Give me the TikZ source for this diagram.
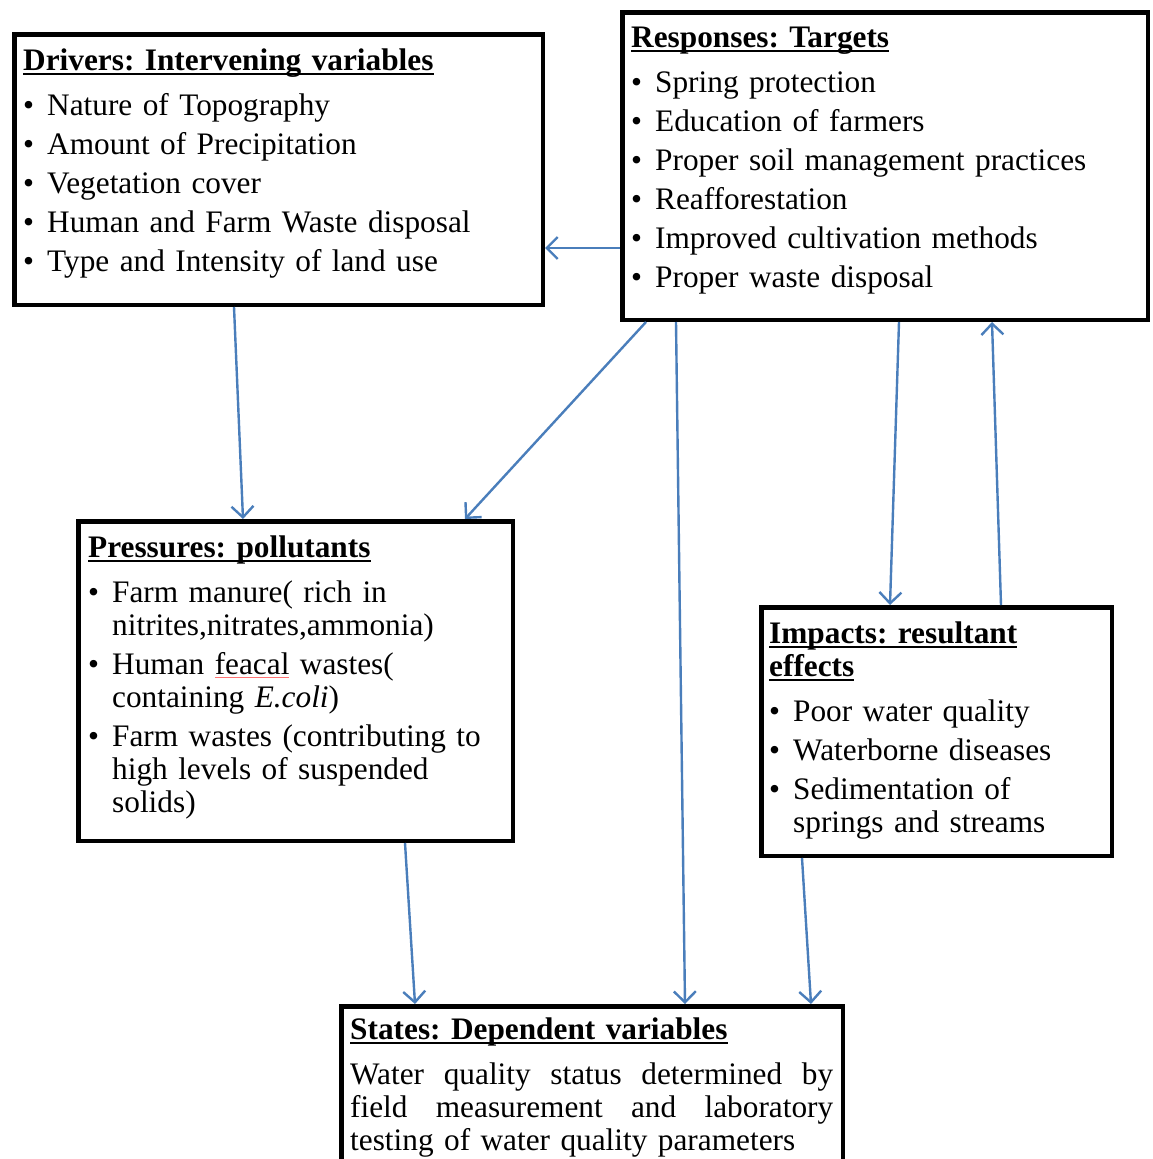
\documentclass[tikz,border=0pt]{standalone}
\usepackage{fontspec}
\setmainfont{Liberation Serif}
\usepackage{xcolor}
\usetikzlibrary{arrows.meta, positioning, calc}

\definecolor{flowblue}{RGB}{74,126,187}

\newcommand{\headline}[1]{\leavevmode\setbox0\hbox{\textbf{#1}}\rlap{\rule[-4.5pt]{\wd0}{2.2pt}}\box0\relax}
\newcommand{\bitem}[1]{\par\hangindent=24pt\hangafter=1\noindent\makebox[24pt][l]{\textbullet}#1}
\newcommand{\spellmark}[1]{\setbox0\hbox{#1}\rlap{\color{red!55}\rule[-3pt]{\wd0}{0.7pt}}\box0\relax}

\begin{document}
\begin{tikzpicture}[
        x=1pt, y=-1pt,
        >={Straight Barb[length=11pt,width=22pt]},
        box/.style={draw=black, line width=4.5pt, rectangle, anchor=north west, inner sep=0pt},
        boxtext/.style={anchor=north west, inner sep=0pt, text width=#1, align=left,
            font={\fontsize{31.3}{33}\selectfont\frenchspacing\setlength{\parskip}{6pt}}},
        flow/.style={->, draw=flowblue, line width=2.4pt}
    ]

        \useasboundingbox (0,0) rectangle (1152,1159);

        % the five boxes
        \node[box, minimum width=528.5pt, minimum height=270.5pt] (drivers) at (12,32) {};
        \node[box, minimum width=525.5pt, minimum height=307.5pt] (responses) at (620,10) {};
        \node[box, minimum width=434.5pt, minimum height=319.5pt] (pressures) at (76,519) {};
        \node[box, minimum width=350.5pt, minimum height=248.5pt] (impacts) at (759,605) {};
        \node[box, minimum width=501.5pt, minimum height=180pt] (states) at (339,1004) {};

        \node[boxtext=515pt] (driverstext) at ([xshift=11pt,yshift=-13pt]drivers.north west) {%
            \rule{0pt}{25pt}\headline{Drivers: Intervening variables}\par\vspace{6pt}
            \bitem{Nature of Topography}
            \bitem{Amount of Precipitation}
            \bitem{Vegetation cover}
            \bitem{Human and Farm Waste disposal}
            \bitem{Type and Intensity of land use}\par};

        \node[boxtext=515pt] (responsestext) at ([xshift=11pt,yshift=-12pt]responses.north west) {%
            \rule{0pt}{25pt}\headline{Responses: Targets}\par\vspace{6pt}
            \bitem{Spring protection}
            \bitem{Education of farmers}
            \bitem{Proper soil management practices}
            \bitem{Reafforestation}
            \bitem{Improved cultivation methods}
            \bitem{Proper waste disposal}\par};

        \node[boxtext=430pt] (pressurestext) at ([xshift=12pt,yshift=-13pt]pressures.north west) {%
            \rule{0pt}{25pt}\headline{Pressures: pollutants}\par\vspace{6pt}
            \bitem{Farm manure( rich in\newline nitrites,nitrates,ammonia)}
            \bitem{Human \spellmark{feacal} wastes(\newline containing \textit{E.coli})}
            \bitem{Farm wastes (contributing to\newline high levels of suspended\newline solids)}\par};

        \node[boxtext=345pt] (impactstext) at ([xshift=10pt,yshift=-13pt]impacts.north west) {%
            \rule{0pt}{25pt}\headline{Impacts: resultant}\newline\headline{effects}\par\vspace{6pt}
            \bitem{Poor water quality}
            \bitem{Waterborne diseases}
            \bitem{Sedimentation of\newline springs and streams}\par};

        \node[boxtext=490pt] (statestext) at ([xshift=11pt,yshift=-10pt]states.north west) {%
            \rule{0pt}{25pt}\headline{States: Dependent variables}\par\vspace{6pt}
            \noindent\hbox to 483pt{Water\hfill quality\hfill status\hfill determined\hfill by}\newline
            \hbox to 483pt{field\hfill measurement\hfill and\hfill laboratory}\newline
            testing of water quality parameters\par};

        % connectors
        \draw[flow] ([yshift=-238pt]responses.north west) -- ([yshift=-216pt]drivers.north east);
        \draw[flow] ([xshift=222pt]drivers.south west) -- ([xshift=167pt]pressures.north west);
        \draw[flow] ([xshift=26pt]responses.south west) -- ([xshift=-50pt]pressures.north east);
        \draw[flow] ([xshift=56pt]responses.south west) -- ([xshift=346pt]states.north west);
        \draw[flow] ([xshift=279pt]responses.south west) -- ([xshift=131pt]impacts.north west);
        \draw[flow] ([xshift=242pt]impacts.north west) -- ([xshift=372pt]responses.south west);
        \draw[flow] ([xshift=329pt]pressures.south west) -- ([xshift=76pt]states.north west);
        \draw[flow] ([xshift=43pt]impacts.south west) -- ([xshift=472pt]states.north west);

    \end{tikzpicture}
\end{document}
